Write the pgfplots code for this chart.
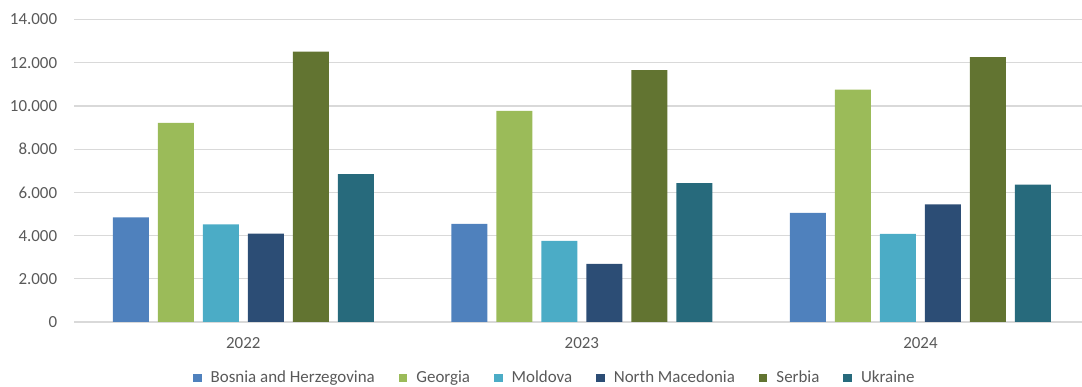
\documentclass[border=0pt]{standalone}
\usepackage{pgfplots}
\pgfplotsset{compat=1.18}
\usepackage{fontspec}
\setmainfont{Carlito}

\definecolor{cBiH}{HTML}{4F81BD}
\definecolor{cGeo}{HTML}{9BBB59}
\definecolor{cMol}{HTML}{4BACC6}
\definecolor{cMkd}{HTML}{2C4D75}
\definecolor{cSrb}{HTML}{627431}
\definecolor{cUkr}{HTML}{276A7C}
\definecolor{gridgray}{HTML}{D9D9D9}
\definecolor{textgray}{HTML}{595959}

\begin{document}
\fontsize{17}{20}\selectfont
\begin{tikzpicture}
\path[use as bounding box] (0,0) rectangle (1082bp,387bp);
\begin{axis}[
  at={(74bp,65bp)}, anchor=south west,
  scale only axis, width=1008bp, height=302.5bp,
  xmin=-0.5, xmax=2.477, ymin=0, ymax=14000,
  ybar=9bp, bar width=36bp,
  xtick=data, xticklabels={2022,2023,2024},
  ytick={0,2000,...,14000},
  ymajorgrids, grid style={draw=gridgray, line width=1.2bp},
  axis line style={draw=none},
  tick style={draw=none},
  scaled y ticks=false,
  ticklabel style={font=\fontsize{17}{20}\selectfont, text=textgray},
  yticklabel style={xshift=-11bp, /pgf/number format/.cd, fixed, precision=0, 1000 sep={.}, assume math mode=true},
  xticklabel style={yshift=-5bp},
  legend style={at={(0.477,-0.185)}, anchor=center, draw=none, fill=none,
    font=\fontsize{17}{20}\selectfont, text=textgray,
    legend columns=6,
    /tikz/every odd column/.append style={column sep=7bp},
    /tikz/every even column/.append style={column sep=22bp}},
  legend image code/.code={\fill[#1] (0bp,-4.3bp) rectangle (8.6bp,4.3bp);},
]
\addplot[fill=cBiH, draw=none] coordinates {(0,4842) (1,4541) (2,5048)};
\addplot[fill=cGeo, draw=none] coordinates {(0,9218) (1,9769) (2,10753)};
\addplot[fill=cMol, draw=none] coordinates {(0,4518) (1,3756) (2,4080)};
\addplot[fill=cMkd, draw=none] coordinates {(0,4085) (1,2695) (2,5446)};
\addplot[fill=cSrb, draw=none] coordinates {(0,12518) (1,11662) (2,12262)};
\addplot[fill=cUkr, draw=none] coordinates {(0,6845) (1,6433) (2,6355)};
\legend{Bosnia and Herzegovina, Georgia, Moldova, North Macedonia, Serbia, Ukraine}
\end{axis}
\end{tikzpicture}
\end{document}
